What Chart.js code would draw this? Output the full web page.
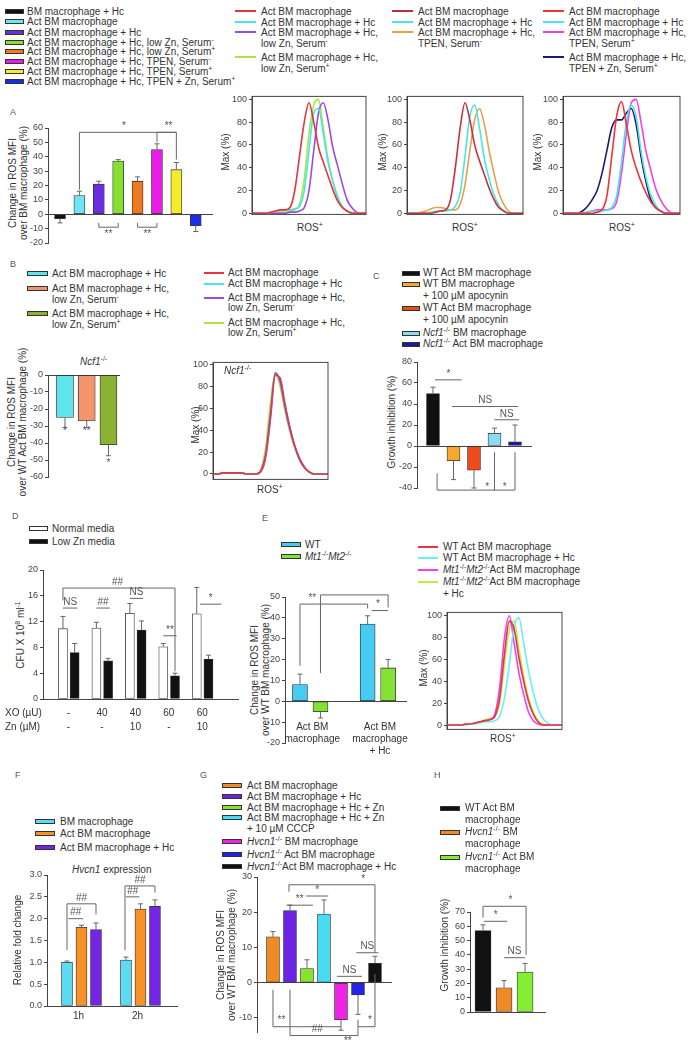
<!DOCTYPE html>
<html>
<head>
<meta charset="utf-8">
<script src="https://cdn.jsdelivr.net/npm/chart.js@4.4.1/dist/chart.umd.min.js"></script>
<style>
  html, body { margin: 0; padding: 0; background: #fff; }
  body { position: relative; width: 693px; height: 1049px; overflow: hidden;
         font-family: "Liberation Sans", Arial, sans-serif; color: #333; }
  .box { position: absolute; }
  .t { position: absolute; font-size: 10px; white-space: nowrap; }
  .v { position: absolute; font-size: 10px; line-height: 11px; white-space: nowrap; text-align: center;
       transform: translate(-50%, -50%) rotate(-90deg); }
  .sw { position: absolute; height: 3px; border: 1px solid #333; }
  .ln { position: absolute; height: 2px; }
  .lt { font-size: 9px; color: #555; }
  sup { font-size: 7px; line-height: 0; vertical-align: 4px; }
</style>
</head>
<body>
<script>
// ---------- data ----------
const MINUS = '<sup>-</sup>', PLUS = '<sup>+</sup>', KO = '<sup>-/-</sup>';

// panel A bars
const aLabels = ['BM macrophage + Hc', 'Act BM macrophage', 'Act BM macrophage + Hc',
  'Act BM macrophage + Hc, low Zn, Serum' + MINUS, 'Act BM macrophage + Hc, low Zn, Serum' + PLUS,
  'Act BM macrophage + Hc, TPEN, Serum' + MINUS, 'Act BM macrophage + Hc, TPEN, Serum' + PLUS,
  'Act BM macrophage + Hc, TPEN + Zn, Serum' + PLUS];
const aValues = [-3, 13, 21, 37, 23, 45, 31, -8];
const aErrors = [3, 3, 2, 1, 3, 4, 5, 4];
const aSig = [
  { x1: 1, x2: 6, y: 57, y1: 17, y2: 38, t: '*', tx: 3.3 },
  { x1: 5, x2: 6, y: 57, y1: 50, t: '**', tx: 5.6 },
  { x1: 2, x2: 3, y: -9, y1: -6, y2: -6, t: '**', below: true },
  { x1: 4, x2: 5, y: -9, y1: -6, y2: -6, t: '**', below: true }
];

// panel A histograms (Max %, 25 bins along ROS+)
const flow1Labels = ['Act BM macrophage', 'Act BM macrophage + Hc',
  'Act BM macrophage + Hc,<br>low Zn, Serum' + MINUS, 'Act BM macrophage + Hc,<br>low Zn, Serum' + PLUS];
const flow1Red    = [0,0,0,0,1,2,3,3,5,20,50,80,97,80,58,45,33,21,11,5,2,0,0,0,0];
const flow1Cyan   = [0,0,0,0,1,2,3,3,3,4,6,20,55,88,92,70,45,28,15,6,2,0,0,0,0];
const flow1Purple = [0,0,0,0,0,0,0,0,1,1,2,5,20,55,88,97,82,58,42,26,12,5,1,0,0];
const flow1Green  = [0,0,0,0,0,1,1,1,2,3,8,30,70,95,100,75,48,28,14,6,2,1,0,0,0];

const flow2Labels = ['Act BM macrophage', 'Act BM macrophage + Hc', 'Act BM macrophage + Hc,<br>TPEN, Serum' + MINUS];
const flow2Red    = [0,0,0,0,0,0,1,2,3,12,40,75,97,82,60,46,34,22,12,5,2,0,0,0,0];
const flow2Cyan   = [0,0,0,0,0,1,2,2,2,3,6,18,50,85,95,75,48,30,16,7,2,0,0,0,0];
const flow2Orange = [0,0,0,1,2,4,5,5,4,3,3,8,25,55,82,92,78,55,35,18,8,2,0,0,0];

const flow3Labels = ['Act BM macrophage', 'Act BM macrophage + Hc', 'Act BM macrophage + Hc,<br>TPEN, Serum' + PLUS,
  'Act BM macrophage + Hc,<br>TPEN + Zn, Serum' + PLUS];
const flow3Red     = [0,0,0,0,0,0,0,1,3,15,50,85,98,78,55,40,28,18,10,5,2,0,0,0,0];
const flow3Cyan    = [0,0,0,0,0,1,2,2,2,3,5,15,45,80,95,85,55,32,16,7,2,0,0,0,0];
const flow3Magenta = [0,0,0,0,0,1,2,3,3,3,4,10,35,70,97,100,80,55,38,22,12,5,1,0,0];
const flow3Navy    = [0,0,0,0,2,6,12,20,35,55,75,82,82,88,92,78,50,28,12,5,2,0,0,0,0];

// panel B
const bLabels = ['Act BM macrophage + Hc', 'Act BM macrophage + Hc,<br>low Zn, Serum' + MINUS,
  'Act BM macrophage + Hc,<br>low Zn, Serum' + PLUS];
const bValues = [-25, -27, -41];
const bErrors = [6, 4, 6.5];
const bMarks = [{ x: 0, y: -33, t: '*' }, { x: 1, y: -33, t: '**' }, { x: 2, y: -52, t: '*' }];
const bFlowRed    = [0,0,1,1,1,1,1,0,0,0,3,18,55,92,85,62,42,26,14,6,2,0,0,0,0];
const bFlowCyan   = [0,0,1,1,1,1,1,0,0,0,3,20,58,93,83,60,40,25,13,6,2,0,0,0,0];
const bFlowPurple = [0,0,1,1,1,1,1,0,0,0,2,15,50,90,88,65,44,27,15,7,2,0,0,0,0];
const bFlowGreen  = [0,0,1,1,1,1,1,0,0,0,4,25,65,92,80,58,40,25,14,7,2,0,0,0,0];

// panel C
const cLabels = ['WT Act BM macrophage', 'WT BM macrophage<br>+ 100 &micro;M apocynin',
  'WT Act BM macrophage<br>+ 100 &micro;M apocynin', '<i>Ncf1</i>' + KO + ' BM macrophage', '<i>Ncf1</i>' + KO + ' Act BM macrophage'];
const cValues = [50, -14, -23, 12, 4];
const cErrors = [6, 18, 17, 5, 16];
const cSig = [
  { x1: 0.1, x2: 1.4, y: 63, t: '*' },
  { x1: 0.93, x2: 4.15, y: 37.6, t: 'NS', tx: 2.55 },
  { x1: 3.0, x2: 4.2, y: 25, t: 'NS', tx: 3.6 },
  { x1: 0.2, x2: 4, y: -42, y1: -26, y2: -6 },
  { x1: 3, x2: 3, y: -42, y1: -6 }
];
const cMarks = [{ x: 2.65, y: -39, t: '*' }, { x: 3.5, y: -39, t: '*' }];

// panel D
const dLegend = ['Normal media', 'Low Zn media'];
const dXO = ['-', '40', '40', '60', '60'];
const dZn = ['-', '-', '10', '-', '10'];
const dNormal = [10.9, 11.0, 13.3, 8.1, 13.2];
const dNormalErr = [1.9, 0.9, 1.5, 0.5, 4.1];
const dLowZn = [7.2, 5.9, 10.7, 3.6, 6.2];
const dLowZnErr = [1.4, 0.4, 1.4, 0.4, 0.6];
const dSig = [
  { x1: 0, x2: 10.05, y: 17.2, y1: 15.3, y2: 4.3, t: '##', tx: 4.9 },
  { x1: 0, x2: 1.3, y: 14.1, t: 'NS' },
  { x1: 3, x2: 4.2, y: 14.1, t: '##' },
  { x1: 6, x2: 7.2, y: 15.6, t: 'NS' },
  { x1: 9, x2: 10.2, y: 9.8, t: '**' },
  { x1: 12.3, x2: 14.2, y: 14.7, t: '*' }
];

// panel E
const eLegend = ['WT', '<i>Mt1</i>' + KO + '<i>Mt2</i>' + KO];
const eGroups = [['Act BM', 'macrophage'], ['Act BM', 'macrophage', '+ Hc']];
const eWT = [8, 37];
const eWTErr = [5, 4];
const eMt = [-5, 16];
const eMtErr = [3, 4];
const eSig = [
  { x1: 0, x2: 3.3, y: 46.6, y1: 17, y2: 44.5, t: '**', tx: 0.6 },
  { x1: 1, x2: 4.3, y: 51, y1: 13.5, y2: 45, t: '*', tx: 2.9 },
  { x1: 3.5, x2: 4.3, y: 43.5, t: '*', tx: 3.8 }
];
const eFlowLabels = ['WT Act BM macrophage', 'WT Act BM macrophage + Hc',
  '<i>Mt1</i>' + KO + '<i>Mt2</i>' + KO + 'Act BM macrophage', '<i>Mt1</i>' + KO + '<i>Mt2</i>' + KO + 'Act BM macrophage<br>+ Hc'];
const eFlowRed     = [0,0,0,0,1,1,2,3,4,5,8,25,65,95,88,62,40,22,10,3,0,0,0,0,0];
const eFlowCyan    = [0,0,0,0,0,1,1,2,3,3,4,8,25,55,90,98,75,50,30,15,6,2,0,0,0];
const eFlowMagenta = [0,0,0,0,1,1,2,3,4,5,10,35,80,100,75,48,28,12,4,1,0,0,0,0,0];
const eFlowGreen   = [0,0,0,0,1,1,2,3,5,6,8,20,55,88,95,70,45,25,12,4,1,0,0,0,0];

// panel F
const fLegend = ['BM macrophage', 'Act BM macrophage', 'Act BM macrophage + Hc'];
const fTimes = ['1h', '2h'];
const fBM = [1.0, 1.05];
const fBMErr = [0.03, 0.07];
const fAct = [1.8, 2.22];
const fActErr = [0.05, 0.12];
const fHc = [1.75, 2.28];
const fHcErr = [0.15, 0.15];
const fSig = [
  { x1: 0.1, x2: 1.1, y: 2.0, t: '##' },
  { x1: 0, x2: 2, y: 2.34, y1: 1.28, y2: 2.1, t: '##' },
  { x1: 4.07, x2: 5.0, y: 2.5, t: '##' },
  { x1: 4.0, x2: 6.07, y: 2.75, y1: 1.28, y2: 2.6, t: '##' }
];

// panel G
const gLabels = ['Act BM macrophage', 'Act BM macrophage + Hc', 'Act BM macrophage + Hc + Zn',
  'Act BM macrophage + Hc + Zn<br>+ 10 &micro;M CCCP', '<i>Hvcn1</i>' + KO + ' BM macrophage',
  '<i>Hvcn1</i>' + KO + ' Act BM macrophage', '<i>Hvcn1</i>' + KO + 'Act BM macrophage + Hc'];
const gValues = [13, 20.5, 4, 19.5, -10.5, -3.5, 5.5];
const gErrors = [1.5, 1.5, 2.5, 4, 3, 5.5, 2];
const gSig = [
  { x1: 0.8, x2: 2.35, y: 22, t: '**' },
  { x1: 1.95, x2: 3.25, y: 24.6, t: '*' },
  { x1: 0.94, x2: 6, y: 27.8, y1: 25.8, y2: 8.5, t: '*', tx: 5.3 },
  { x1: 3.76, x2: 5.24, y: 1.8, t: 'NS' },
  { x1: 4.9, x2: 6.2, y: 8.5, t: 'NS' },
  { x1: 0, x2: 4, y: -12.5, y1: -2, t: '**', tx: 0.5 },
  { x1: 1, x2: 5, y: -15, y1: -2, y2: -10.5, t: '##', tx: 2.6 },
  { x1: 5, x2: 6, y: -12.5, y2: 2.5, t: '*', tx: 5.7 }
];
const gMarks = [{ x: 4.4, y: -16.5, t: '**' }];

// panel H
const hLabels = ['WT Act BM<br>macrophage', '<i>Hvcn1</i>' + KO + ' BM<br>macrophage', '<i>Hvcn1</i>' + KO + ' Act BM<br>macrophage'];
const hValues = [57, 17, 28];
const hErrors = [4, 5, 6];
const hSig = [
  { x1: 0.05, x2: 1.15, y: 63.5, t: '*' },
  { x1: 0, x2: 2.05, y: 74, y1: 66, y2: 40, t: '*', tx: 1.3 },
  { x1: 1, x2: 2, y: 38, t: 'NS' }
];

// ---------- styles ----------
const aColors = ['#111111', '#6ee6ee', '#6a2ee0', '#86e030', '#f07a20', '#e81ee8', '#f4ee2a', '#1a2ee8'];
const RED = '#e8343c', CYAN = '#48e4ec', PURPLE = '#9a4ae6', YGREEN = '#a6e83c';
const bColors = ['#5ee4ec', '#f4946c', '#8cb234'];
const cColors = ['#111111', '#f8a830', '#ee4a1c', '#8adcf4', '#1a1aa0'];
const eColors = ['#44ccf2', '#84e234'];
const fColors = ['#5cdcf2', '#f89228', '#7424e4'];
const gColors = ['#f08a24', '#6c24e4', '#88e42c', '#48dcf2', '#f024e4', '#2424e8', '#111111'];
const hColors = ['#111111', '#f08a24', '#84ee34'];

Chart.defaults.font.family = '"Liberation Sans", Arial, sans-serif';
const TICK_FONT = { size: 9 };

// ---------- helpers ----------
function txt(x, y, html, lh = 12, cls = 't') {
  const d = document.createElement('div');
  d.className = cls;
  d.innerHTML = html;
  d.style.left = x + 'px';
  d.style.top = (y - lh / 2) + 'px';
  d.style.lineHeight = lh + 'px';
  document.body.appendChild(d);
  return d;
}
function ctxt(cx, y, html) {
  const d = txt(cx, y, html);
  d.style.transform = 'translateX(-50%)';
  return d;
}
function vtxt(cx, cy, html) {
  const d = document.createElement('div');
  d.className = 'v';
  d.innerHTML = html;
  d.style.left = cx + 'px';
  d.style.top = cy + 'px';
  document.body.appendChild(d);
}
function legend(kind, sx, tx, ys, colors, labels, sw = 20, lh = 11) {
  labels.forEach((lab, i) => {
    const s = document.createElement('div');
    s.className = kind === 'line' ? 'ln' : 'sw';
    s.style.left = sx + 'px';
    s.style.top = (ys[i] - (kind === 'line' ? 1 : 2.5)) + 'px';
    s.style.width = (kind === 'line' ? sw : sw - 2) + 'px';
    s.style.background = colors[i];
    document.body.appendChild(s);
    txt(tx, ys[i], lab, lh);
  });
}

const extras = {
  id: 'extras',
  afterDatasetsDraw(chart, args, o) {
    const { ctx } = chart;
    const xs = chart.scales.x, ys = chart.scales.y;
    const px = v => xs.getPixelForValue(v), py = v => ys.getPixelForValue(v);
    ctx.save();
    ctx.lineWidth = 1;
    chart.data.datasets.forEach((ds, di) => {
      if (!ds.err) return;
      chart.getDatasetMeta(di).data.forEach((el, i) => {
        const v = ds.data[i].y, e = ds.err[i];
        if (!e) return;
        const end = py(v + (v < 0 ? -e : e));
        ctx.strokeStyle = '#666';
        ctx.beginPath();
        ctx.moveTo(el.x, el.y); ctx.lineTo(el.x, end);
        ctx.moveTo(el.x - 2.5, end); ctx.lineTo(el.x + 2.5, end);
        ctx.stroke();
      });
    });
    ctx.strokeStyle = '#666';
    ctx.fillStyle = '#555';
    ctx.font = '10px "Liberation Sans", Arial, sans-serif';
    ctx.textAlign = 'center';
    (o.sig || []).forEach(s => {
      const yy = py(s.y);
      ctx.beginPath();
      ctx.moveTo(px(s.x1), py(s.y1 ?? s.y));
      ctx.lineTo(px(s.x1), yy);
      ctx.lineTo(px(s.x2), yy);
      ctx.lineTo(px(s.x2), py(s.y2 ?? s.y));
      ctx.stroke();
      if (s.t) {
        ctx.textBaseline = s.below ? 'top' : 'bottom';
        ctx.fillText(s.t, px(s.tx ?? (s.x1 + s.x2) / 2), yy + (s.below ? 2 : -1));
      }
    });
    ctx.textBaseline = 'middle';
    (o.marks || []).forEach(m => ctx.fillText(m.t, px(m.x), py(m.y)));
    ctx.fillStyle = '#333';
    (o.cats || []).forEach(c => {
      c.lines.forEach((l, k) => ctx.fillText(l, px(c.x), py(c.y) + k * (c.lh || 12)));
    });
    ctx.restore();
  }
};

const frame = {
  id: 'frame',
  afterDraw(chart) {
    const { ctx, chartArea: a } = chart;
    ctx.save();
    ctx.strokeStyle = '#444';
    ctx.lineWidth = 1;
    ctx.strokeRect(a.left, a.top, a.right - a.left, a.bottom - a.top);
    ctx.restore();
  }
};

function holder() {
  const box = document.createElement('div');
  box.className = 'box';
  box.style.left = '0px'; box.style.top = '0px';
  box.style.width = '240px'; box.style.height = '240px';
  document.body.appendChild(box);
  const cv = document.createElement('canvas');
  box.appendChild(cv);
  return { box, cv };
}

// move/resize the holder so the plot area lands on [left, top, right, bottom]
function fit(chart, box, area) {
  const [L, T, R, B] = area;
  const a = chart.chartArea;
  const offL = a.left, offT = a.top, offR = chart.width - a.right, offB = chart.height - a.bottom;
  box.style.left = (L - offL) + 'px';
  box.style.top = (T - offT) + 'px';
  box.style.width = (offL + (R - L) + offR) + 'px';
  box.style.height = (offT + (B - T) + offB) + 'px';
  chart.resize();
}

function yAxis(min, max, step, fmt) {
  return {
    min, max,
    ticks: { stepSize: step, font: TICK_FONT, color: '#444', padding: 2, includeBounds: false, callback: fmt },
    border: { color: '#444' },
    afterFit: s => { s.width = 26; }
  };
}

function bars(cfg) {
  const { box, cv } = holder();
  const datasets = cfg.series.map(s => ({
    data: s.x.map((x, i) => ({ x, y: s.y[i] })),
    err: s.err,
    backgroundColor: s.color,
    borderColor: '#333',
    borderWidth: 0.8,
    borderSkipped: false,
    barThickness: cfg.bw,
    grouped: false
  }));
  const y = yAxis(cfg.yr[0], cfg.yr[1], cfg.step, cfg.fmt);
  y.grid = {
    color: c => (cfg.zero && c.tick && c.tick.value === 0) ? '#444' : 'rgba(0,0,0,0)',
    tickColor: '#444', tickLength: 3
  };
  const chart = new Chart(cv, {
    type: 'bar',
    data: { datasets },
    plugins: [extras],
    options: {
      responsive: true, maintainAspectRatio: false, animation: false,
      layout: { padding: Object.assign({ top: 8, bottom: 8, left: 0, right: 4 }, cfg.pad || {}) },
      plugins: { legend: { display: false }, tooltip: { enabled: false },
                 extras: { sig: cfg.sig, marks: cfg.marks, cats: cfg.cats } },
      scales: {
        x: { type: 'linear', min: cfg.xr[0], max: cfg.xr[1], offset: false, display: !!cfg.xAxis,
             ticks: { display: false }, grid: { display: false }, border: { color: '#444' } },
        y
      }
    }
  });
  fit(chart, box, cfg.area);
  return chart;
}

function flow(area, yr, curves, colors) {
  const { box, cv } = holder();
  const y = yAxis(yr[0], yr[1], 20);
  y.grid = { drawOnChartArea: false, tickColor: '#444', tickLength: 3 };
  const chart = new Chart(cv, {
    type: 'line',
    data: {
      datasets: curves.map((c, k) => ({
        data: c.map((v, i) => ({ x: i, y: v })),
        borderColor: colors[k], borderWidth: 1.6, pointRadius: 0,
        cubicInterpolationMode: 'monotone', fill: false
      }))
    },
    plugins: [frame],
    options: {
      responsive: true, maintainAspectRatio: false, animation: false,
      layout: { padding: { top: 6, bottom: 6, left: 0, right: 2 } },
      plugins: { legend: { display: false }, tooltip: { enabled: false } },
      scales: { x: { type: 'linear', min: 0, max: 24, display: false }, y }
    }
  });
  fit(chart, box, area);
  return chart;
}
const idx = arr => arr.map((_, i) => i);

// ---------- top legends ----------
legend('box', 5, 27, [11, 21, 32, 42, 51, 61, 71, 81], aColors, aLabels, 19, 11);
legend('line', 235, 261, [11, 22, 32, 57], [RED, CYAN, PURPLE, YGREEN], flow1Labels, 21);
legend('line', 392, 418, [11, 22, 32], ['#b83040', CYAN, '#e8a048'], flow2Labels, 21);
legend('line', 543, 569, [11, 22, 32, 57], ['#f03434', CYAN, '#f040e8', '#1c1c6c'], flow3Labels, 21);

// ---------- panel A ----------
txt(10, 112, 'A', 12, 't lt');
vtxt(18, 183, 'Change in ROS MFI<br>over BM macrophage (%)');
bars({ area: [48, 128, 213, 243], xr: [-0.62, 7.89], yr: [-20, 60], step: 10, bw: 11, zero: true,
       series: [{ x: idx(aValues), y: aValues, err: aErrors, color: aColors }], sig: aSig });
flow([252, 96, 366, 214], [-1, 102.6], [flow1Red, flow1Cyan, flow1Purple, flow1Green], [RED, CYAN, PURPLE, YGREEN]);
flow([407, 96, 523, 214], [-1, 102.6], [flow2Red, flow2Cyan, flow2Orange], ['#c83040', CYAN, '#e8a048']);
flow([563, 96, 680, 214], [-1, 102.6], [flow3Red, flow3Cyan, flow3Magenta, flow3Navy], ['#f03434', CYAN, '#f040e8', '#1c1c6c']);
[225, 382, 537].forEach(x => vtxt(x, 152, 'Max (%)'));
[310, 465, 622].forEach(x => ctxt(x, 228, 'ROS' + PLUS));

// ---------- panel B ----------
txt(10, 264, 'B', 12, 't lt');
legend('box', 27, 52, [273, 288, 313], bColors, bLabels, 21, 11);
legend('line', 204, 228, [273, 284, 298, 323], [RED, CYAN, PURPLE, YGREEN], flow1Labels, 20, 10.5);
txt(80, 362, '<i>Ncf1</i>' + KO);
vtxt(17, 422, 'Change in ROS MFI<br>over WT Act BM macrophage (%)');
bars({ area: [48, 375, 120, 477], xr: [-0.78, 2.53], yr: [-60, 0], step: 10, bw: 17, zero: true,
       series: [{ x: idx(bValues), y: bValues, err: bErrors, color: bColors }], marks: bMarks });
flow([213, 362, 328, 479], [-5, 102], [bFlowRed, bFlowCyan, bFlowPurple, bFlowGreen], [RED, CYAN, PURPLE, YGREEN]);
txt(224, 371, '<i>Ncf1</i>' + KO);
vtxt(195, 425, 'Max (%)');
ctxt(270, 490, 'ROS' + PLUS);

// ---------- panel C ----------
txt(373, 276, 'C', 12, 't lt');
legend('box', 402, 423, [273, 284, 308, 333, 344], cColors, cLabels, 18, 12);
vtxt(391, 422, 'Growth inhibition (%)');
bars({ area: [417, 362, 532, 488], xr: [-0.78, 4.83], yr: [-40, 80], step: 20, bw: 13, zero: true, pad: { bottom: 12 },
       series: [{ x: idx(cValues), y: cValues, err: cErrors, color: cColors }], sig: cSig, marks: cMarks });

// ---------- panel D ----------
txt(12, 516, 'D', 12, 't lt');
legend('box', 29, 52, [528, 541], ['#ffffff', '#111111'], dLegend, 19, 11);
vtxt(20, 635, 'CFU X 10<sup>8</sup> ml<sup>-1</sup>');
bars({ area: [43, 570, 238, 699], xr: [-1.79, 15.7], yr: [0, 20], step: 2, bw: 9, xAxis: true, pad: { bottom: 40 },
       series: [
         { x: dNormal.map((_, g) => g * 3), y: dNormal, err: dNormalErr, color: '#ffffff' },
         { x: dLowZn.map((_, g) => g * 3 + 1.05), y: dLowZn, err: dLowZnErr, color: '#111111' }
       ],
       sig: dSig,
       cats: dXO.map((v, g) => ({ x: g * 3 + 0.5, y: -2.2, lines: [v, dZn[g]], lh: 14 })) });
txt(5, 713, 'XO (&micro;U)');
txt(5, 727, 'Zn (&micro;M)');

// ---------- panel E ----------
txt(262, 518, 'E', 12, 't lt');
legend('box', 281, 305, [544, 556], eColors, eLegend, 20, 11);
legend('line', 418, 443, [547, 558, 570, 582], [RED, '#6af0f0', '#f040f0', '#bcee4a'], eFlowLabels, 20, 12);
vtxt(260, 670, 'Change in ROS MFI<br>over WT BM macrophage (%)');
bars({ area: [285, 597, 407, 743], xr: [-0.73, 5.22], yr: [-20, 50], step: 10, bw: 15, zero: true, pad: { bottom: 18 },
       series: [
         { x: eWT.map((_, g) => g * 3.3), y: eWT, err: eWTErr, color: eColors[0] },
         { x: eMt.map((_, g) => g * 3.3 + 1), y: eMt, err: eMtErr, color: eColors[1] }
       ],
       sig: eSig,
       cats: eGroups.map((lines, g) => ({ x: g * 3.3 + 0.6, y: -12.5, lines })) });
flow([447, 612, 562, 729], [-4, 103], [eFlowRed, eFlowCyan, eFlowMagenta, eFlowGreen], [RED, '#6af0f0', '#f040f0', '#bcee4a']);
vtxt(423, 668, 'Max (%)');
ctxt(503, 739, 'ROS' + PLUS);

// ---------- panel F ----------
txt(15, 775, 'F', 12, 't lt');
legend('box', 35, 60, [821, 833, 847], fColors, fLegend, 20, 11);
txt(72, 870, '<i>Hvcn1</i> expression');
vtxt(17, 940, 'Relative fold change');
bars({ area: [47, 875, 177, 1006], xr: [-1.38, 7.59], yr: [0, 3], step: 0.5, bw: 11, xAxis: true,
       fmt: v => v.toFixed(1), pad: { bottom: 20 },
       series: [
         { x: fBM.map((_, g) => g * 4.07), y: fBM, err: fBMErr, color: fColors[0] },
         { x: fAct.map((_, g) => g * 4.07 + 1), y: fAct, err: fActErr, color: fColors[1] },
         { x: fHc.map((_, g) => g * 4.07 + 2), y: fHc, err: fHcErr, color: fColors[2] }
       ],
       sig: fSig,
       cats: fTimes.map((t, g) => ({ x: g * 4.07 + 0.8, y: -0.23, lines: [t] })) });

// ---------- panel G ----------
txt(200, 775, 'G', 12, 't lt');
legend('box', 222, 247, [785, 796, 807, 817, 841, 854, 866], gColors, gLabels, 20, 11);
vtxt(226, 955, 'Change in ROS MFI<br>over WT BM macrophage (%)');
bars({ area: [257, 877, 392, 1032], xr: [-0.94, 7.0], yr: [-14, 30], step: 10, bw: 13, zero: true, pad: { bottom: 12 },
       series: [{ x: idx(gValues), y: gValues, err: gErrors, color: gColors }], sig: gSig, marks: gMarks });

// ---------- panel H ----------
txt(434, 775, 'H', 12, 't lt');
legend('box', 440, 465, [808, 832, 857], hColors, hLabels, 20, 12);
vtxt(444, 945, 'Growth inhibition (%)');
bars({ area: [470, 912, 545, 1012], xr: [-0.62, 2.95], yr: [0, 70], step: 10, bw: 16, xAxis: true, pad: { top: 18 },
       series: [{ x: idx(hValues), y: hValues, err: hErrors, color: hColors }], sig: hSig });
</script>
</body>
</html>
